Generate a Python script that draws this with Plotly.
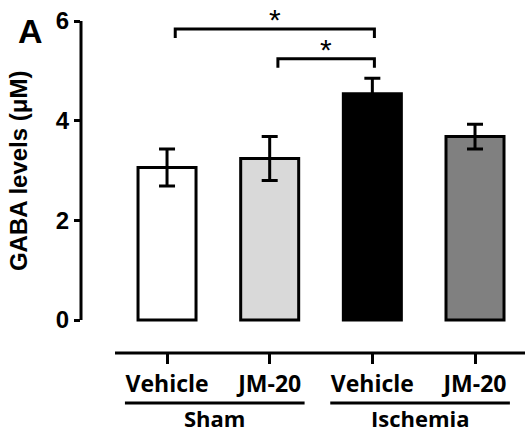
import plotly.graph_objects as go

# ---- data ----
conditions = ["Vehicle", "JM-20", "Vehicle", "JM-20"]
groups = ["Sham", "Sham", "Ischemia", "Ischemia"]
gaba = [3.06, 3.24, 4.54, 3.68]
sem = [0.37, 0.44, 0.31, 0.25]
bar_colors = ["#ffffff", "#d9d9d9", "#000000", "#808080"]
y_ticks = [0, 2, 4, 6]
comparisons = [(0, 2, "*"), (1, 2, "*")]

x_pos = list(range(len(conditions)))
X_RANGE = [-0.838, 3.487]
Y_RANGE = [-0.662, 6.0]

def px_x(v):
    return (v - X_RANGE[0]) / (X_RANGE[1] - X_RANGE[0])

def px_y(v):
    return (v - Y_RANGE[0]) / (Y_RANGE[1] - Y_RANGE[0])

fig = go.Figure()
fig.add_trace(go.Bar(
    x=x_pos, y=gaba, width=0.565,
    marker=dict(color=bar_colors, line=dict(color="black", width=3)),
    error_y=dict(type="data", array=sem, color="black", thickness=3, width=8),
))

shapes = []
annotations = []
LINE = dict(color="black", width=3)

# y axis line (0..6)
shapes.append(dict(type="line", xref="paper", yref="paper", x0=0, x1=0,
                   y0=px_y(0), y1=px_y(6), line=LINE))
# x axis line
shapes.append(dict(type="line", xref="paper", yref="paper", x0=0.0766, x1=1.0,
                   y0=0, y1=0, line=LINE))

# significance brackets
top = max(g + s for g, s in zip(gaba, sem))
for k, (i, j, lab) in enumerate(sorted(comparisons, key=lambda c: -c[0])):
    yb = top + 0.39 + 0.6 * k
    xl, xr = i + 0.08, j + 0.02
    shapes.append(dict(type="path", xref="x", yref="y",
                       path=f"M {xl},{yb-0.18} L {xl},{yb} L {xr},{yb} L {xr},{yb-0.18}",
                       line=LINE))
    annotations.append(dict(x=(xl + xr) / 2, y=yb, xref="x", yref="y", text=lab,
                            showarrow=False, yanchor="bottom", yshift=-9,
                            font=dict(family="Liberation Sans", size=30, color="black")))

# group underlines and labels
seen = []
for g in groups:
    if g not in seen:
        seen.append(g)
for g in seen:
    idx = [i for i, gg in enumerate(groups) if gg == g]
    x0, x1 = idx[0] - 0.41, idx[-1] + 0.34
    shapes.append(dict(type="line", xref="paper", yref="paper", x0=px_x(x0), x1=px_x(x1),
                       y0=-0.1506, y1=-0.1506, line=LINE))
    annotations.append(dict(x=(x0 + x1) / 2, y=-0.196, xref="x", yref="paper", text=g,
                            showarrow=False, yanchor="middle",
                            font=dict(family="Open Sans", size=22, color="black", weight="bold")))

# y-axis title and panel letter
annotations.append(dict(x=-63 / 444, y=0.548, xref="paper", yref="paper",
                        text="GABA levels (\u03bcM)", textangle=-90, showarrow=False,
                        xanchor="center", yanchor="middle",
                        font=dict(family="Liberation Sans", size=24, color="black", weight="bold")))
annotations.append(dict(x=-51 / 444, y=0.97, xref="paper", yref="paper", text="A",
                        showarrow=False, xanchor="center", yanchor="middle",
                        font=dict(family="Liberation Sans", size=34, color="black", weight="bold")))

fig.update_layout(
    width=525, height=435,
    margin=dict(l=81, r=0, t=21, b=82),
    paper_bgcolor="white", plot_bgcolor="white",
    showlegend=False,
    shapes=shapes, annotations=annotations,
    xaxis=dict(range=X_RANGE, tickvals=x_pos, ticktext=conditions,
               showline=False, showgrid=False, zeroline=False,
               ticks="outside", ticklen=10, tickwidth=3, tickcolor="black",
               tickfont=dict(family="Open Sans", size=23, color="black", weight="bold"),
               automargin=False),
    yaxis=dict(range=Y_RANGE, tickvals=y_ticks, showline=False, showgrid=False,
               zeroline=False, ticks="outside", ticklen=6, tickwidth=3, tickcolor="black",
               tickfont=dict(family="Liberation Sans", size=24, color="black", weight="bold"),
               automargin=False),
)

fig.write_html("out.html")
